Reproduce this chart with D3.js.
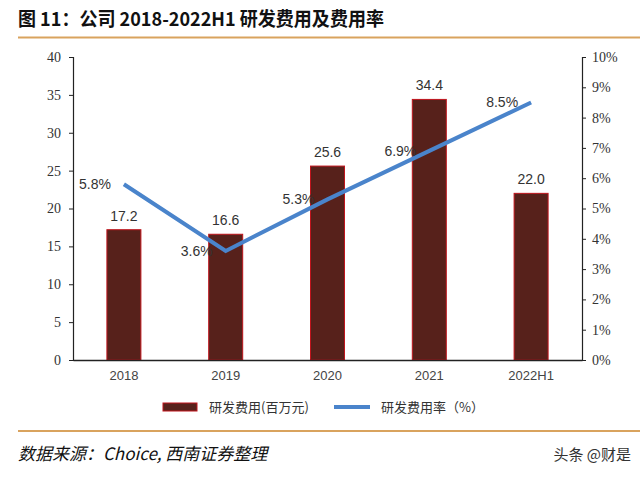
<!DOCTYPE html>
<html>
<head>
<meta charset="utf-8">
<script src="https://cdn.jsdelivr.net/npm/d3@7"></script>
<style>
  html, body { margin: 0; padding: 0; background: #fff; }
  svg { display: block; }
</style>
</head>
<body>
<svg id="chart" width="640" height="478"></svg>
<script>
// 数据
const years = ['2018', '2019', '2020', '2021', '2022H1'];
const rdExpense = [17.2, 16.6, 25.6, 34.4, 22.0];      // 研发费用(百万元)
const rdRate = [5.8, 3.6, 5.3, 6.9, 8.5];              // 研发费用率(%)
const leftTicks = [0, 5, 10, 15, 20, 25, 30, 35, 40];
const rightTicks = [0, 1, 2, 3, 4, 5, 6, 7, 8, 9, 10];

const svg = d3.select('#chart');
const margin = { top: 57, right: 58, bottom: 118, left: 73 };
const width = 640, height = 478;

const x = d3.scaleBand()
    .domain(years)
    .range([margin.left, width - margin.right]);

const yL = d3.scaleLinear()
    .domain([0, 40])
    .range([height - margin.bottom, margin.top]);

const yR = d3.scaleLinear()
    .domain([0, 10])
    .range([height - margin.bottom, margin.top]);

// 标题
svg.append('text')
    .attr('x', 18)
    .attr('y', 26)
    .attr('font-family', '"Noto Sans CJK SC", sans-serif')
    .attr('font-weight', 'bold')
    .attr('font-size', 19)
    .attr('fill', '#111')
    .attr('textLength', 366)
    .attr('lengthAdjust', 'spacingAndGlyphs')
    .text('图 11：公司 2018-2022H1 研发费用及费用率');

svg.append('line')
    .attr('x1', 18).attr('x2', 640)
    .attr('y1', 37.5).attr('y2', 37.5)
    .attr('stroke', '#d9a35e')
    .attr('stroke-width', 2);

// 坐标轴
const serif = '"Liberation Serif", "DejaVu Serif", serif';

const leftAxis = svg.append('g')
    .attr('transform', `translate(${margin.left},0)`)
    .call(d3.axisLeft(yL).tickValues(leftTicks).tickSize(4).tickPadding(8));

const rightAxis = svg.append('g')
    .attr('transform', `translate(${width - margin.right},0)`)
    .call(d3.axisRight(yR).tickValues(rightTicks).tickSize(4).tickPadding(6)
        .tickFormat(d => d + '%'));

[leftAxis, rightAxis].forEach(g => {
    g.select('.domain').attr('stroke', '#222').attr('stroke-width', 1.2);
    g.selectAll('.tick line').attr('stroke', '#222');
    g.selectAll('.tick text')
        .attr('font-family', serif)
        .attr('font-size', 14)
        .attr('fill', '#333');
});

// 柱子
svg.append('g')
    .selectAll('rect')
    .data(rdExpense)
    .enter()
    .append('rect')
    .attr('x', (d, i) => x(years[i]) + x.bandwidth() / 2 - 17)
    .attr('y', d => yL(d))
    .attr('width', 34)
    .attr('height', d => yL(0) - yL(d))
    .attr('fill', '#57211b')
    .attr('stroke', '#c0141c')
    .attr('stroke-width', 1);

// x轴
const xAxis = svg.append('g')
    .attr('transform', `translate(0,${height - margin.bottom})`)
    .call(d3.axisBottom(x).tickSize(0).tickPadding(11));
xAxis.select('.domain').attr('stroke', '#222').attr('stroke-width', 1.5);
xAxis.selectAll('.tick text')
    .attr('font-family', '"Liberation Sans", Arial, sans-serif')
    .attr('font-size', 13)
    .attr('fill', '#444');

// 柱子数值
svg.append('g')
    .selectAll('text')
    .data(rdExpense)
    .enter()
    .append('text')
    .attr('x', (d, i) => x(years[i]) + x.bandwidth() / 2)
    .attr('y', d => yL(d) - 9)
    .attr('text-anchor', 'middle')
    .attr('font-family', '"Liberation Sans", Arial, sans-serif')
    .attr('font-size', 14)
    .attr('fill', '#333')
    .text(d => d.toFixed(1));

// 折线
const line = d3.line()
    .x((d, i) => x(years[i]) + x.bandwidth() / 2)
    .y(d => yR(d));

svg.append('path')
    .datum(rdRate)
    .attr('d', line)
    .attr('fill', 'none')
    .attr('stroke', '#4a84cb')
    .attr('stroke-width', 4)
    .attr('stroke-linejoin', 'miter');

svg.append('g')
    .selectAll('text')
    .data(rdRate)
    .enter()
    .append('text')
    .attr('x', (d, i) => x(years[i]) + x.bandwidth() / 2 - 13)
    .attr('y', d => yR(d) + 5)
    .attr('text-anchor', 'end')
    .attr('font-family', '"Liberation Sans", Arial, sans-serif')
    .attr('font-size', 14)
    .attr('fill', '#333')
    .text(d => d.toFixed(1) + '%');

// 图例
const legend = svg.append('g');
legend.append('rect')
    .attr('x', 163).attr('y', 403)
    .attr('width', 34).attr('height', 8)
    .attr('fill', '#57211b')
    .attr('stroke', '#c0141c');
legend.append('text')
    .attr('x', 209).attr('y', 412)
    .attr('font-family', '"Noto Sans CJK SC", sans-serif')
    .attr('font-size', 13)
    .attr('fill', '#333')
    .text('研发费用(百万元)');
legend.append('line')
    .attr('x1', 334).attr('x2', 370)
    .attr('y1', 407).attr('y2', 407)
    .attr('stroke', '#4a84cb')
    .attr('stroke-width', 4);
legend.append('text')
    .attr('x', 381).attr('y', 412)
    .attr('font-family', '"Noto Sans CJK SC", sans-serif')
    .attr('font-size', 13)
    .attr('fill', '#333')
    .text('研发费用率（%）');

// 底部
svg.append('line')
    .attr('x1', 18).attr('x2', 640)
    .attr('y1', 431).attr('y2', 431)
    .attr('stroke', '#d9a35e')
    .attr('stroke-width', 2);

svg.append('text')
    .attr('x', 18)
    .attr('y', 460)
    .attr('font-family', '"Noto Sans CJK SC", sans-serif')
    .attr('font-style', 'italic')
    .attr('font-size', 17)
    .attr('fill', '#111')
    .text('数据来源：Choice, 西南证券整理');

svg.append('text')
    .attr('x', 631)
    .attr('y', 460)
    .attr('text-anchor', 'end')
    .attr('font-family', '"Noto Sans CJK SC", sans-serif')
    .attr('font-size', 15)
    .attr('fill', '#333')
    .text('头条 @财是');
</script>
</body>
</html>
